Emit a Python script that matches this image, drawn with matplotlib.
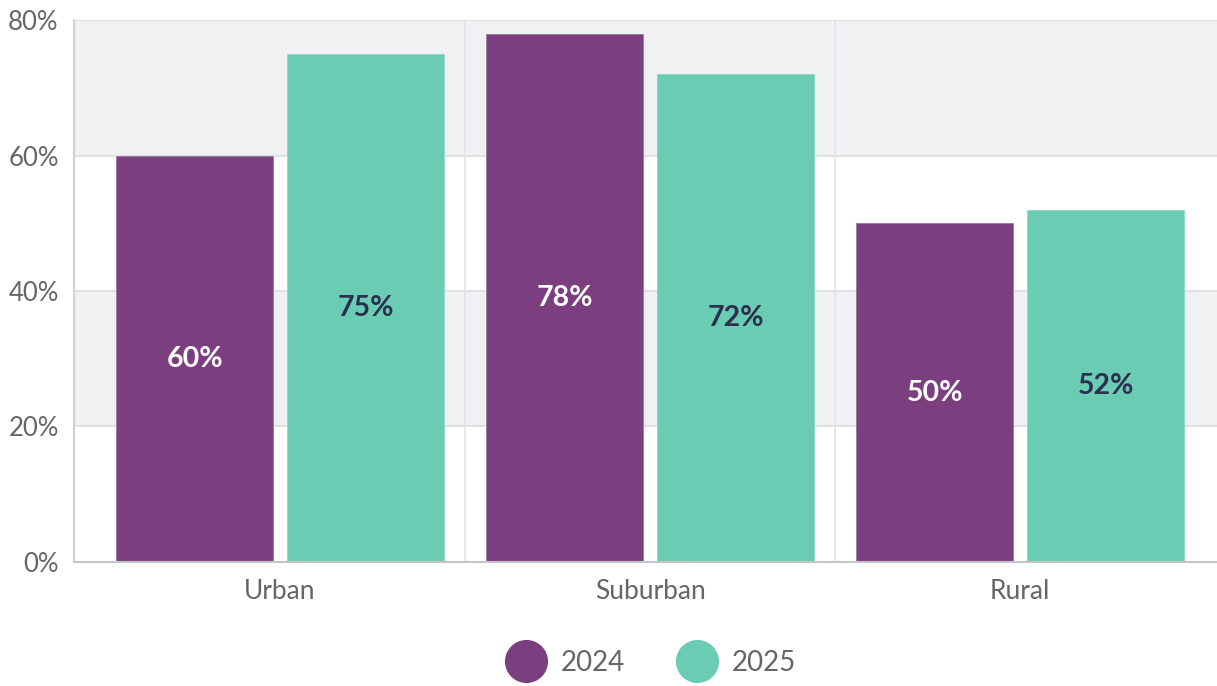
import matplotlib
matplotlib.use("Agg")
import matplotlib.pyplot as plt
from matplotlib.lines import Line2D
import numpy as np

plt.rcParams['font.family'] = ['Lato', 'DejaVu Sans']

categories = ["Urban", "Suburban", "Rural"]
series_names = ["2024", "2025"]
values_2024 = [60, 78, 50]
values_2025 = [75, 72, 52]
y_ticks = [0, 20, 40, 60, 80]
y_tick_labels = ["0%", "20%", "40%", "60%", "80%"]

purple = "#7b3f80"
teal = "#6accb2"
band = "#f0f1f3"
grid = "#dcdde1"
label_grey = "#65666a"

fig = plt.figure(figsize=(12.17, 6.86), dpi=100)
ax = fig.add_axes([0.0608, 0.1808, 0.9392, 0.790])

x = np.arange(len(categories))
width = 0.424
offset = 0.231

ax.set_xlim(-0.557, 2.532)
ax.set_ylim(0, 80)

# alternating horizontal bands
for lo, hi in [(20, 40), (60, 80)]:
    ax.axhspan(lo, hi, color=band, zorder=0, lw=0)
for t in y_ticks:
    ax.axhline(t, color=grid, lw=1.2, zorder=1)
# category separators
for s in [0.5, 1.5]:
    ax.axvline(s, color="#e2e3e6", lw=1.2, zorder=1)

b1 = ax.bar(x - offset, values_2024, width, color=purple, zorder=2,
            edgecolor="#9a76a0", linewidth=0.6)
b2 = ax.bar(x + offset, values_2025, width, color=teal, zorder=2,
            edgecolor="#8fd8c4", linewidth=0.6)

for rect, v in zip(b1, values_2024):
    ax.text(rect.get_x() + rect.get_width() / 2, v / 2, f"{v}%",
            ha="center", va="center", color="white", fontsize=20.5,
            fontweight="bold", zorder=3)
for rect, v in zip(b2, values_2025):
    ax.text(rect.get_x() + rect.get_width() / 2, v / 2, f"{v}%",
            ha="center", va="center", color="#2d2f4f", fontsize=20.5,
            fontweight="bold", zorder=3)

ax.set_yticks(y_ticks)
ax.set_yticklabels(y_tick_labels, fontsize=18.5, color=label_grey)
ax.set_xticks(x)
ax.set_xticklabels(categories, fontsize=19, color=label_grey)
ax.tick_params(axis="both", length=0)
ax.tick_params(axis="y", pad=11)
ax.tick_params(axis="x", pad=12)

for side in ["top", "right"]:
    ax.spines[side].set_visible(False)
ax.spines["left"].set_color("#d0d1d4")
ax.spines["left"].set_linewidth(1.5)
ax.spines["bottom"].set_color("#c4c5c8")
ax.spines["bottom"].set_linewidth(1.5)
ax.spines["bottom"].set_zorder(4)

handles = [
    Line2D([], [], marker="o", linestyle="none", markersize=30,
           markerfacecolor=purple, markeredgecolor=purple),
    Line2D([], [], marker="o", linestyle="none", markersize=30,
           markerfacecolor=teal, markeredgecolor=teal),
]
fig.legend(handles, series_names, loc="center",
           bbox_to_anchor=(0.536, 0.034), ncol=2, frameon=False,
           fontsize=20, labelcolor=label_grey,
           handletextpad=0.65, columnspacing=2.0, handlelength=1.2)

fig.savefig("out.png", dpi=100)
